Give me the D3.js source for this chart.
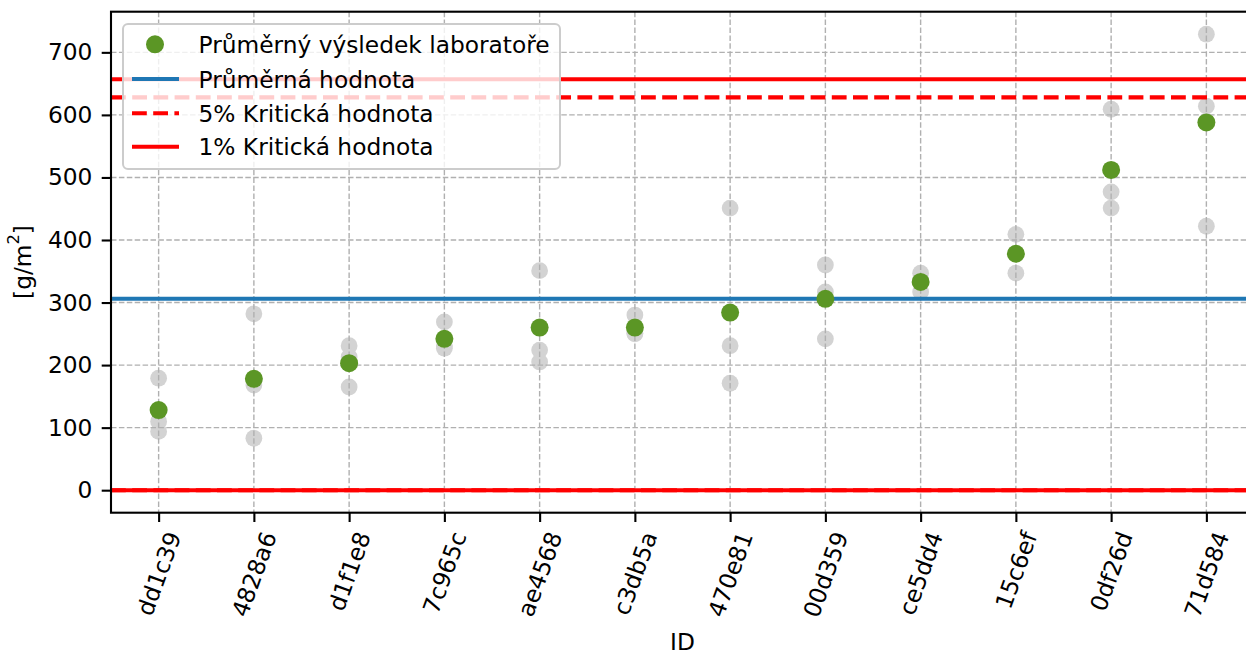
<!DOCTYPE html>
<html>
<head>
<meta charset="utf-8">
<script src="https://cdn.jsdelivr.net/npm/d3@7"></script>
<style>
  html, body { margin: 0; padding: 0; background: #fff; }
  svg { display: block; font-family: "DejaVu Sans", sans-serif; }
</style>
</head>
<body>
<svg id="chart" width="1246" height="653"></svg>
<script>
// Laboratory IDs along the x axis
const labIds = ["dd1c39", "4828a6", "d1f1e8", "7c965c", "ae4568", "c3db5a",
                "470e81", "00d359", "ce5dd4", "15c6ef", "0df26d", "71d584"];

// Individual results of each laboratory [g/m²]
const labResults = [
  [179, 110, 94],
  [282, 168, 83],
  [231, 213, 165],
  [269, 231, 227],
  [351, 224, 205],
  [280, 251, 250],
  [451, 231, 171],
  [360, 317, 242],
  [347, 336, 317],
  [409, 378, 347],
  [609, 477, 451],
  [729, 614, 422]
];

// Average result of each laboratory
const labMeans = [128, 178, 203, 242, 260, 260, 284, 306, 333, 378, 512, 588];

// Reference lines
const overallMean = 306;
const critical5 = [0, 628];
const critical1 = [0, 657];

const yTicks = [0, 100, 200, 300, 400, 500, 600, 700];

const legendLabels = ["Průměrný výsledek laboratoře", "Průměrná hodnota",
                      "5% Kritická hodnota", "1% Kritická hodnota"];

const colors = { green: "#5b9625", blue: "#1f77b4", red: "#ff0000", grey: "#d3d3d3", grid: "#b0b0b0" };

const svg = d3.select("#chart");
const fontSize = 23.3;
const plotLeft = 111, plotRight = 1254, plotTop = 11.7, plotBottom = 512.7;

const x = d3.scaleLinear().domain([-0.5, labIds.length - 0.5]).range([plotLeft, plotRight]);
const y = d3.scaleLinear().domain([-36, 765]).range([plotBottom, plotTop]);

const plot = svg.append("g");

// individual results (drawn beneath the grid)
const flat = labResults.flatMap((vals, i) => vals.map(v => ({ i, v })));
plot.selectAll("circle.result").data(flat).enter().append("circle")
  .attr("class", "result")
  .attr("cx", d => x(d.i)).attr("cy", d => y(d.v)).attr("r", 8.4)
  .attr("fill", colors.grey);

// grid
const grid = plot.append("g").attr("stroke", colors.grid).attr("stroke-width", 1.4)
  .attr("stroke-dasharray", "5.5,2.4");
grid.selectAll("line.gx").data(labIds.map((d, i) => i)).enter().append("line")
  .attr("x1", d => x(d)).attr("x2", d => x(d)).attr("y1", plotTop).attr("y2", plotBottom);
grid.selectAll("line.gy").data(yTicks).enter().append("line")
  .attr("x1", plotLeft).attr("x2", plotRight).attr("y1", d => y(d)).attr("y2", d => y(d));

// reference lines
function hline(v, color, dash) {
  plot.append("line")
    .attr("x1", plotLeft).attr("x2", plotRight).attr("y1", y(v)).attr("y2", y(v))
    .attr("stroke", color).attr("stroke-width", 4.1)
    .attr("stroke-dasharray", dash || null);
}
hline(overallMean, colors.blue);
critical5.forEach(v => hline(v, colors.red, "14.8,6.4"));
critical1.forEach(v => hline(v, colors.red));

// laboratory averages
plot.selectAll("circle.mean").data(labMeans).enter().append("circle")
  .attr("cx", (d, i) => x(i)).attr("cy", d => y(d)).attr("r", 9)
  .attr("fill", colors.green);

// axes
const yAxis = d3.axisLeft(y).tickValues(yTicks).tickSize(9.3).tickPadding(9.3);
const yg = svg.append("g").attr("transform", `translate(${plotLeft},0)`).call(yAxis);
const xAxis = d3.axisBottom(x).tickValues(labIds.map((d, i) => i)).tickFormat(() => "").tickSize(9.3);
const xg = svg.append("g").attr("transform", `translate(0,${plotBottom})`).call(xAxis);
[yg, xg].forEach(g => {
  g.select(".domain").remove();
  g.selectAll(".tick line").attr("stroke", "#000").attr("stroke-width", 2.1);
  g.selectAll("text").attr("font-size", fontSize).attr("font-family", "DejaVu Sans").attr("fill", "#000");
});

// frame
svg.append("rect").attr("x", plotLeft).attr("y", plotTop)
  .attr("width", plotRight - plotLeft).attr("height", plotBottom - plotTop)
  .attr("fill", "none").attr("stroke", "#000").attr("stroke-width", 2.1);

// rotated category labels
const labelTop = plotBottom + 9.3 + 6;
const ang = 70 * Math.PI / 180;
labIds.forEach((id, i) => {
  const t = svg.append("text").text(id)
    .attr("font-size", fontSize).attr("text-anchor", "middle")
    .attr("dominant-baseline", "central");
  const w = t.node().getComputedTextLength();
  const h = fontSize * 1.164;
  const bh = w * Math.sin(ang) + h * Math.cos(ang);
  t.attr("transform", `translate(${x(i)},${labelTop + bh / 2}) rotate(-70)`);
});

// axis titles
svg.append("text").attr("x", (plotLeft + plotRight) / 2).attr("y", 641)
  .attr("dominant-baseline", "central")
  .attr("text-anchor", "middle").attr("font-size", fontSize).text("ID");
const yl = svg.append("text").attr("transform", "translate(22,262) rotate(-90)")
  .attr("text-anchor", "middle").attr("dominant-baseline", "central").attr("font-size", fontSize);
yl.append("tspan").text("[g/m");
yl.append("tspan").text("2").attr("font-size", fontSize * 0.7).attr("dy", -9);
yl.append("tspan").text("]").attr("dy", 9);

// legend
const lg = svg.append("g");
lg.append("rect").attr("x", 123).attr("y", 24).attr("width", 437).attr("height", 145)
  .attr("rx", 5).attr("fill", "#fff").attr("fill-opacity", 0.8)
  .attr("stroke", "#cccccc").attr("stroke-width", 2);
const rowY = [44.3, 79, 113.3, 146.7];
lg.append("circle").attr("cx", 155).attr("cy", rowY[0]).attr("r", 9).attr("fill", colors.green);
[[colors.blue, null], [colors.red, "14.8,6.4"], [colors.red, null]].forEach((s, k) => {
  lg.append("line").attr("x1", 132).attr("x2", 179).attr("y1", rowY[k + 1]).attr("y2", rowY[k + 1])
    .attr("stroke", s[0]).attr("stroke-width", 4.1).attr("stroke-dasharray", s[1]);
});
legendLabels.forEach((txt, k) => {
  lg.append("text").attr("x", 198.5).attr("y", rowY[k]).attr("dominant-baseline", "central")
    .attr("font-size", fontSize).text(txt);
});
</script>
</body>
</html>
